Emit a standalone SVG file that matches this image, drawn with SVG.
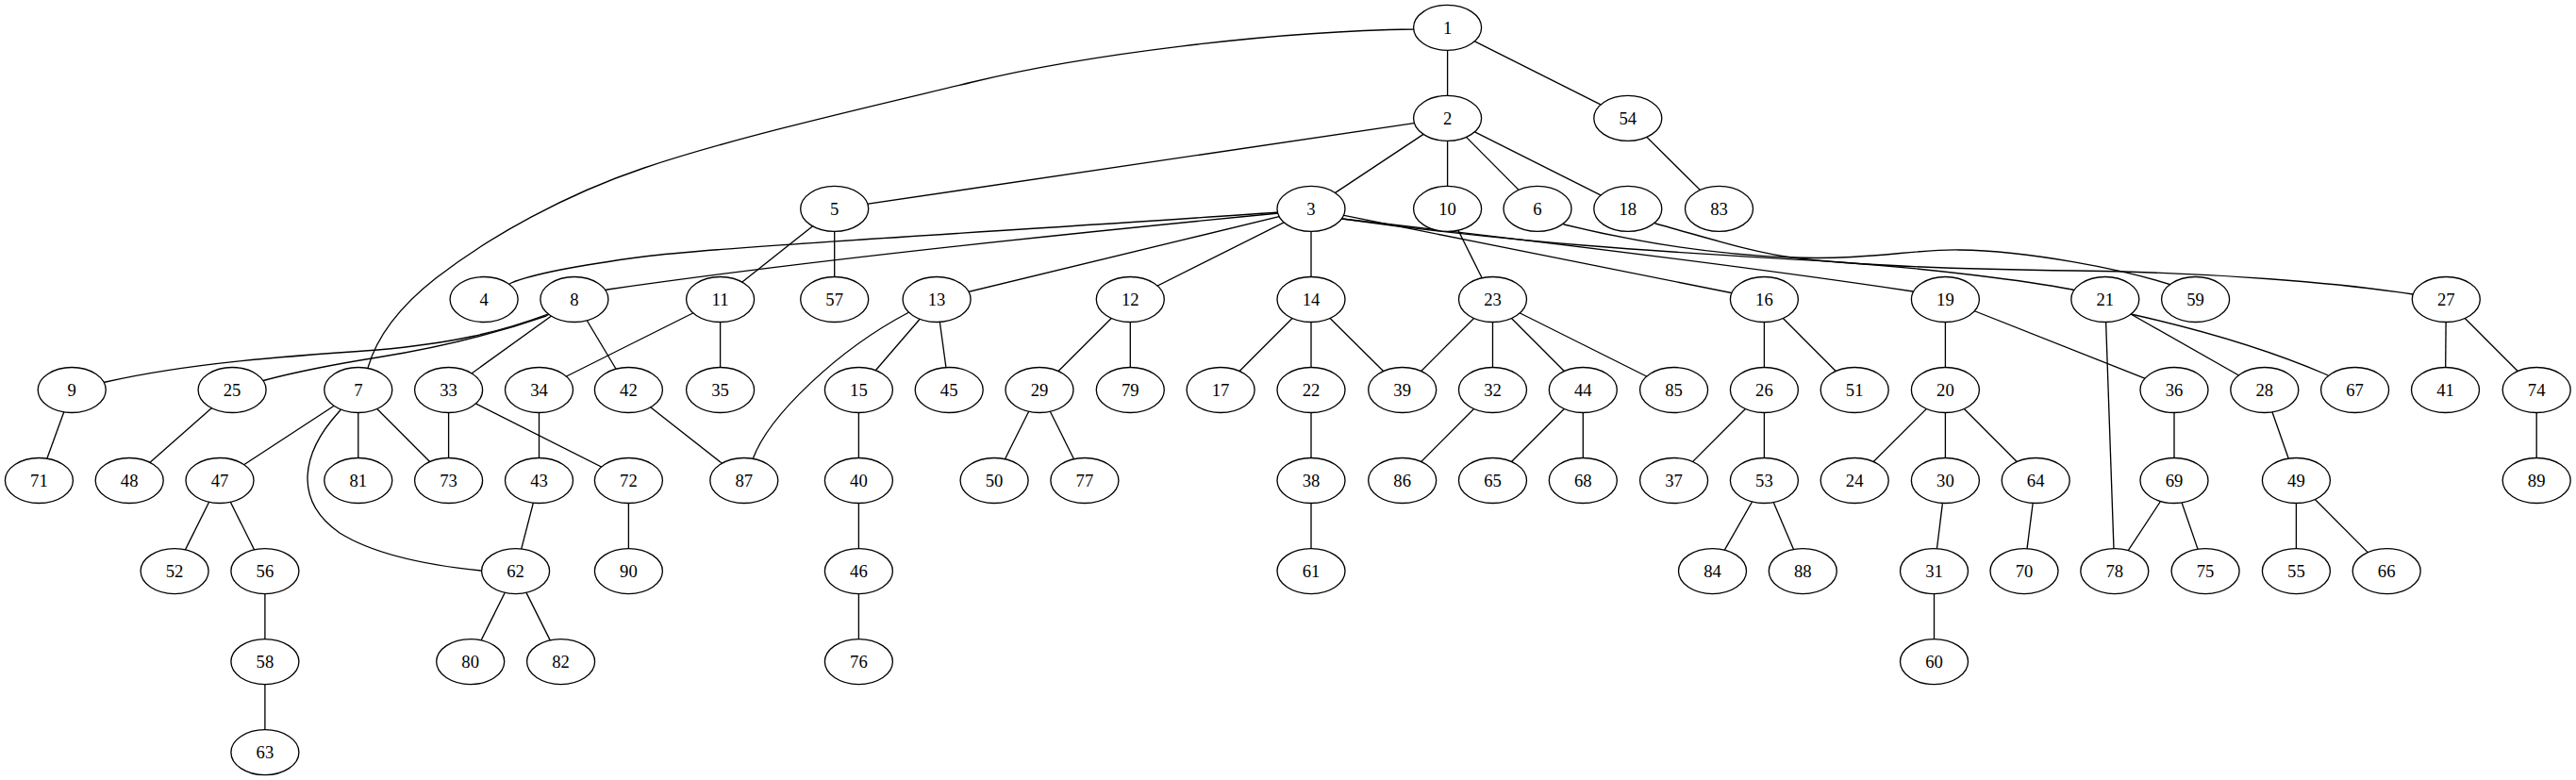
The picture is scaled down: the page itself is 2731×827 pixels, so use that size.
<svg xmlns="http://www.w3.org/2000/svg" width="2731" height="827" viewBox="0 0 2731 827">
<style>
.edges path{fill:none;stroke:#000;stroke-width:1.33}
.node ellipse{fill:#fff;stroke:#000;stroke-width:1.33}
.node text{font-family:"Liberation Serif","Times New Roman",serif;font-size:18.67px;text-anchor:middle;fill:#000}
</style>
<rect x="0" y="0" width="2731" height="827" fill="#fff"/>
<g id="edges" class="edges">
<path d="M1534.6,29.3 L1534.6,125.4"/>
<path d="M1534.6,29.3 L1725.8,125.4"/>
<path d="M1725.8,125.4 L1822.5,221.4"/>
<path d="M1534.6,125.4 L884.7,221.4"/>
<path d="M1534.6,125.4 L1390,221.4"/>
<path d="M1534.6,125.4 L1534.6,221.4"/>
<path d="M1534.6,125.4 L1630,221.4"/>
<path d="M1534.6,125.4 L1725.8,221.4"/>
<path d="M884.7,221.4 L763.6,317.5"/>
<path d="M884.7,221.4 L884.7,317.5"/>
<path d="M1390,221.4 L993.1,317.5"/>
<path d="M1390,221.4 L1198.3,317.5"/>
<path d="M1390,221.4 L1390,317.5"/>
<path d="M1390,221.4 L1870.4,317.5"/>
<path d="M1534.6,221.4 L1582.5,317.5"/>
<path d="M608.9,317.5 L475.6,413.5"/>
<path d="M608.9,317.5 L666.4,413.5"/>
<path d="M763.6,317.5 L571.5,413.5"/>
<path d="M763.6,317.5 L763.6,413.5"/>
<path d="M993.1,317.5 L910.4,413.5"/>
<path d="M993.1,317.5 L1006.2,413.5"/>
<path d="M1198.3,317.5 L1102,413.5"/>
<path d="M1198.3,317.5 L1198.3,413.5"/>
<path d="M1390,317.5 L1294.1,413.5"/>
<path d="M1390,317.5 L1390,413.5"/>
<path d="M1390,317.5 L1486.7,413.5"/>
<path d="M1582.5,317.5 L1486.7,413.5"/>
<path d="M1582.5,317.5 L1582.5,413.5"/>
<path d="M1582.5,317.5 L1678.3,413.5"/>
<path d="M1582.5,317.5 L1774.6,413.5"/>
<path d="M1870.4,317.5 L1870.4,413.5"/>
<path d="M1870.4,317.5 L1966.2,413.5"/>
<path d="M2062.4,317.5 L2062.4,413.5"/>
<path d="M2062.4,317.5 L2305,413.5"/>
<path d="M2231.8,317.5 L2241.8,605.6"/>
<path d="M2231.8,317.5 L2400.8,413.5"/>
<path d="M2593.3,317.5 L2592.5,413.5"/>
<path d="M2593.3,317.5 L2689.2,413.5"/>
<path d="M76.2,413.5 L41.4,509.5"/>
<path d="M246.1,413.5 L137.2,509.5"/>
<path d="M379.8,413.5 L233,509.5"/>
<path d="M379.8,413.5 L379.8,509.5"/>
<path d="M379.8,413.5 L475.6,509.5"/>
<path d="M475.6,413.5 L475.6,509.5"/>
<path d="M475.6,413.5 L666.4,509.5"/>
<path d="M571.5,413.5 L571.5,509.5"/>
<path d="M666.4,413.5 L788.8,509.5"/>
<path d="M910.4,413.5 L910.4,509.5"/>
<path d="M1102,413.5 L1054.1,509.5"/>
<path d="M1102,413.5 L1149.9,509.5"/>
<path d="M1390,413.5 L1390,509.5"/>
<path d="M1582.5,413.5 L1486.7,509.5"/>
<path d="M1678.3,413.5 L1582.5,509.5"/>
<path d="M1678.3,413.5 L1678.3,509.5"/>
<path d="M1870.4,413.5 L1774.6,509.5"/>
<path d="M1870.4,413.5 L1870.4,509.5"/>
<path d="M2062.4,413.5 L1966.2,509.5"/>
<path d="M2062.4,413.5 L2062.4,509.5"/>
<path d="M2062.4,413.5 L2158.2,509.5"/>
<path d="M2305,413.5 L2305,509.5"/>
<path d="M2400.8,413.5 L2434.4,509.5"/>
<path d="M2689.2,413.5 L2689.2,509.5"/>
<path d="M233,509.5 L185.1,605.6"/>
<path d="M233,509.5 L280.9,605.6"/>
<path d="M571.5,509.5 L546.6,605.6"/>
<path d="M666.4,509.5 L666.4,605.6"/>
<path d="M910.4,509.5 L910.4,605.6"/>
<path d="M1390,509.5 L1390,605.6"/>
<path d="M1870.4,509.5 L1815.5,605.6"/>
<path d="M1870.4,509.5 L1911.3,605.6"/>
<path d="M2062.4,509.5 L2050.5,605.6"/>
<path d="M2158.2,509.5 L2146,605.6"/>
<path d="M2305,509.5 L2241.8,605.6"/>
<path d="M2305,509.5 L2338.1,605.6"/>
<path d="M2434.4,509.5 L2434.4,605.6"/>
<path d="M2434.4,509.5 L2530.2,605.6"/>
<path d="M280.9,605.6 L280.9,701.6"/>
<path d="M546.6,605.6 L498.7,701.6"/>
<path d="M546.6,605.6 L594.6,701.6"/>
<path d="M910.4,605.6 L910.4,701.6"/>
<path d="M2050.5,605.6 L2050.5,701.6"/>
<path d="M280.9,701.6 L280.9,797.7"/>
<path d="M1534.6,29.3 L1499,31 C1350,33 1150,58 1031,87 C940,109 780,145 683,178 C600,206 520,250 462,295 C425,324 400,355 390,390 L379.8,413.5"/>
<path d="M1390,221.4 L1356,225 C1100,243 760,262 683,272 C630,279 570,288 542,300 L513.1,317.5"/>
<path d="M1390,221.4 L1356,226 Q900,270 644,307 L608.9,317.5"/>
<path d="M1390,221.4 L1423,232 Q1800,275 2028,309 L2062.4,317.5"/>
<path d="M1390,221.4 L1423,232 C1650,264 1850,271 1950,278 C2050,285 2150,298 2197,307 L2231.8,317.5"/>
<path d="M1630,221.4 L1658,238 C1740,258 1820,270 1900,273 C1980,276 2030,264 2077,265 C2150,266 2250,285 2305,303 L2327.6,317.5"/>
<path d="M1725.8,221.4 L1755,237 C1820,255 1860,268 1900,273 C1960,281 2050,285 2200,287 C2350,289 2480,300 2558,312 L2593.3,317.5"/>
<path d="M608.9,317.5 L581,333 C530,352 480,364 400,371 C300,378 200,385 112,405 L76.2,413.5"/>
<path d="M608.9,317.5 L579,335 C530,352 470,368 400,379 C350,387 315,394 281,403 L246.1,413.5"/>
<path d="M993.1,317.5 L962,332 C890,370 815,440 798,487 L788.8,509.5"/>
<path d="M379.8,413.5 L359,437 C320,480 310,530 360,565 C400,590 460,600 510,605 L546.6,605.6"/>
<path d="M2231.8,317.5 L2259,333 Q2380,360 2466,397 L2496.6,413.5"/>
</g>
<g id="n1" class="node"><ellipse cx="1534.6" cy="29.3" rx="36" ry="24"/><text x="1534.6" y="35.8">1</text></g>
<g id="n2" class="node"><ellipse cx="1534.6" cy="125.4" rx="36" ry="24"/><text x="1534.6" y="131.9">2</text></g>
<g id="n54" class="node"><ellipse cx="1725.8" cy="125.4" rx="36" ry="24"/><text x="1725.8" y="131.9">54</text></g>
<g id="n5" class="node"><ellipse cx="884.7" cy="221.4" rx="36" ry="24"/><text x="884.7" y="227.9">5</text></g>
<g id="n3" class="node"><ellipse cx="1390" cy="221.4" rx="36" ry="24"/><text x="1390" y="227.9">3</text></g>
<g id="n10" class="node"><ellipse cx="1534.6" cy="221.4" rx="36" ry="24"/><text x="1534.6" y="227.9">10</text></g>
<g id="n6" class="node"><ellipse cx="1630" cy="221.4" rx="36" ry="24"/><text x="1630" y="227.9">6</text></g>
<g id="n18" class="node"><ellipse cx="1725.8" cy="221.4" rx="36" ry="24"/><text x="1725.8" y="227.9">18</text></g>
<g id="n83" class="node"><ellipse cx="1822.5" cy="221.4" rx="36" ry="24"/><text x="1822.5" y="227.9">83</text></g>
<g id="n4" class="node"><ellipse cx="513.1" cy="317.5" rx="36" ry="24"/><text x="513.1" y="324">4</text></g>
<g id="n8" class="node"><ellipse cx="608.9" cy="317.5" rx="36" ry="24"/><text x="608.9" y="324">8</text></g>
<g id="n11" class="node"><ellipse cx="763.6" cy="317.5" rx="36" ry="24"/><text x="763.6" y="324">11</text></g>
<g id="n57" class="node"><ellipse cx="884.7" cy="317.5" rx="36" ry="24"/><text x="884.7" y="324">57</text></g>
<g id="n13" class="node"><ellipse cx="993.1" cy="317.5" rx="36" ry="24"/><text x="993.1" y="324">13</text></g>
<g id="n12" class="node"><ellipse cx="1198.3" cy="317.5" rx="36" ry="24"/><text x="1198.3" y="324">12</text></g>
<g id="n14" class="node"><ellipse cx="1390" cy="317.5" rx="36" ry="24"/><text x="1390" y="324">14</text></g>
<g id="n23" class="node"><ellipse cx="1582.5" cy="317.5" rx="36" ry="24"/><text x="1582.5" y="324">23</text></g>
<g id="n16" class="node"><ellipse cx="1870.4" cy="317.5" rx="36" ry="24"/><text x="1870.4" y="324">16</text></g>
<g id="n19" class="node"><ellipse cx="2062.4" cy="317.5" rx="36" ry="24"/><text x="2062.4" y="324">19</text></g>
<g id="n21" class="node"><ellipse cx="2231.8" cy="317.5" rx="36" ry="24"/><text x="2231.8" y="324">21</text></g>
<g id="n59" class="node"><ellipse cx="2327.6" cy="317.5" rx="36" ry="24"/><text x="2327.6" y="324">59</text></g>
<g id="n27" class="node"><ellipse cx="2593.3" cy="317.5" rx="36" ry="24"/><text x="2593.3" y="324">27</text></g>
<g id="n9" class="node"><ellipse cx="76.2" cy="413.5" rx="36" ry="24"/><text x="76.2" y="420">9</text></g>
<g id="n25" class="node"><ellipse cx="246.1" cy="413.5" rx="36" ry="24"/><text x="246.1" y="420">25</text></g>
<g id="n7" class="node"><ellipse cx="379.8" cy="413.5" rx="36" ry="24"/><text x="379.8" y="420">7</text></g>
<g id="n33" class="node"><ellipse cx="475.6" cy="413.5" rx="36" ry="24"/><text x="475.6" y="420">33</text></g>
<g id="n34" class="node"><ellipse cx="571.5" cy="413.5" rx="36" ry="24"/><text x="571.5" y="420">34</text></g>
<g id="n42" class="node"><ellipse cx="666.4" cy="413.5" rx="36" ry="24"/><text x="666.4" y="420">42</text></g>
<g id="n35" class="node"><ellipse cx="763.6" cy="413.5" rx="36" ry="24"/><text x="763.6" y="420">35</text></g>
<g id="n15" class="node"><ellipse cx="910.4" cy="413.5" rx="36" ry="24"/><text x="910.4" y="420">15</text></g>
<g id="n45" class="node"><ellipse cx="1006.2" cy="413.5" rx="36" ry="24"/><text x="1006.2" y="420">45</text></g>
<g id="n29" class="node"><ellipse cx="1102" cy="413.5" rx="36" ry="24"/><text x="1102" y="420">29</text></g>
<g id="n79" class="node"><ellipse cx="1198.3" cy="413.5" rx="36" ry="24"/><text x="1198.3" y="420">79</text></g>
<g id="n17" class="node"><ellipse cx="1294.1" cy="413.5" rx="36" ry="24"/><text x="1294.1" y="420">17</text></g>
<g id="n22" class="node"><ellipse cx="1390" cy="413.5" rx="36" ry="24"/><text x="1390" y="420">22</text></g>
<g id="n39" class="node"><ellipse cx="1486.7" cy="413.5" rx="36" ry="24"/><text x="1486.7" y="420">39</text></g>
<g id="n32" class="node"><ellipse cx="1582.5" cy="413.5" rx="36" ry="24"/><text x="1582.5" y="420">32</text></g>
<g id="n44" class="node"><ellipse cx="1678.3" cy="413.5" rx="36" ry="24"/><text x="1678.3" y="420">44</text></g>
<g id="n85" class="node"><ellipse cx="1774.6" cy="413.5" rx="36" ry="24"/><text x="1774.6" y="420">85</text></g>
<g id="n26" class="node"><ellipse cx="1870.4" cy="413.5" rx="36" ry="24"/><text x="1870.4" y="420">26</text></g>
<g id="n51" class="node"><ellipse cx="1966.2" cy="413.5" rx="36" ry="24"/><text x="1966.2" y="420">51</text></g>
<g id="n20" class="node"><ellipse cx="2062.4" cy="413.5" rx="36" ry="24"/><text x="2062.4" y="420">20</text></g>
<g id="n36" class="node"><ellipse cx="2305" cy="413.5" rx="36" ry="24"/><text x="2305" y="420">36</text></g>
<g id="n28" class="node"><ellipse cx="2400.8" cy="413.5" rx="36" ry="24"/><text x="2400.8" y="420">28</text></g>
<g id="n67" class="node"><ellipse cx="2496.6" cy="413.5" rx="36" ry="24"/><text x="2496.6" y="420">67</text></g>
<g id="n41" class="node"><ellipse cx="2592.5" cy="413.5" rx="36" ry="24"/><text x="2592.5" y="420">41</text></g>
<g id="n74" class="node"><ellipse cx="2689.2" cy="413.5" rx="36" ry="24"/><text x="2689.2" y="420">74</text></g>
<g id="n71" class="node"><ellipse cx="41.4" cy="509.5" rx="36" ry="24"/><text x="41.4" y="516">71</text></g>
<g id="n48" class="node"><ellipse cx="137.2" cy="509.5" rx="36" ry="24"/><text x="137.2" y="516">48</text></g>
<g id="n47" class="node"><ellipse cx="233" cy="509.5" rx="36" ry="24"/><text x="233" y="516">47</text></g>
<g id="n81" class="node"><ellipse cx="379.8" cy="509.5" rx="36" ry="24"/><text x="379.8" y="516">81</text></g>
<g id="n73" class="node"><ellipse cx="475.6" cy="509.5" rx="36" ry="24"/><text x="475.6" y="516">73</text></g>
<g id="n43" class="node"><ellipse cx="571.5" cy="509.5" rx="36" ry="24"/><text x="571.5" y="516">43</text></g>
<g id="n72" class="node"><ellipse cx="666.4" cy="509.5" rx="36" ry="24"/><text x="666.4" y="516">72</text></g>
<g id="n87" class="node"><ellipse cx="788.8" cy="509.5" rx="36" ry="24"/><text x="788.8" y="516">87</text></g>
<g id="n40" class="node"><ellipse cx="910.4" cy="509.5" rx="36" ry="24"/><text x="910.4" y="516">40</text></g>
<g id="n50" class="node"><ellipse cx="1054.1" cy="509.5" rx="36" ry="24"/><text x="1054.1" y="516">50</text></g>
<g id="n77" class="node"><ellipse cx="1149.9" cy="509.5" rx="36" ry="24"/><text x="1149.9" y="516">77</text></g>
<g id="n38" class="node"><ellipse cx="1390" cy="509.5" rx="36" ry="24"/><text x="1390" y="516">38</text></g>
<g id="n86" class="node"><ellipse cx="1486.7" cy="509.5" rx="36" ry="24"/><text x="1486.7" y="516">86</text></g>
<g id="n65" class="node"><ellipse cx="1582.5" cy="509.5" rx="36" ry="24"/><text x="1582.5" y="516">65</text></g>
<g id="n68" class="node"><ellipse cx="1678.3" cy="509.5" rx="36" ry="24"/><text x="1678.3" y="516">68</text></g>
<g id="n37" class="node"><ellipse cx="1774.6" cy="509.5" rx="36" ry="24"/><text x="1774.6" y="516">37</text></g>
<g id="n53" class="node"><ellipse cx="1870.4" cy="509.5" rx="36" ry="24"/><text x="1870.4" y="516">53</text></g>
<g id="n24" class="node"><ellipse cx="1966.2" cy="509.5" rx="36" ry="24"/><text x="1966.2" y="516">24</text></g>
<g id="n30" class="node"><ellipse cx="2062.4" cy="509.5" rx="36" ry="24"/><text x="2062.4" y="516">30</text></g>
<g id="n64" class="node"><ellipse cx="2158.2" cy="509.5" rx="36" ry="24"/><text x="2158.2" y="516">64</text></g>
<g id="n69" class="node"><ellipse cx="2305" cy="509.5" rx="36" ry="24"/><text x="2305" y="516">69</text></g>
<g id="n49" class="node"><ellipse cx="2434.4" cy="509.5" rx="36" ry="24"/><text x="2434.4" y="516">49</text></g>
<g id="n89" class="node"><ellipse cx="2689.2" cy="509.5" rx="36" ry="24"/><text x="2689.2" y="516">89</text></g>
<g id="n52" class="node"><ellipse cx="185.1" cy="605.6" rx="36" ry="24"/><text x="185.1" y="612.1">52</text></g>
<g id="n56" class="node"><ellipse cx="280.9" cy="605.6" rx="36" ry="24"/><text x="280.9" y="612.1">56</text></g>
<g id="n62" class="node"><ellipse cx="546.6" cy="605.6" rx="36" ry="24"/><text x="546.6" y="612.1">62</text></g>
<g id="n90" class="node"><ellipse cx="666.4" cy="605.6" rx="36" ry="24"/><text x="666.4" y="612.1">90</text></g>
<g id="n46" class="node"><ellipse cx="910.4" cy="605.6" rx="36" ry="24"/><text x="910.4" y="612.1">46</text></g>
<g id="n61" class="node"><ellipse cx="1390" cy="605.6" rx="36" ry="24"/><text x="1390" y="612.1">61</text></g>
<g id="n84" class="node"><ellipse cx="1815.5" cy="605.6" rx="36" ry="24"/><text x="1815.5" y="612.1">84</text></g>
<g id="n88" class="node"><ellipse cx="1911.3" cy="605.6" rx="36" ry="24"/><text x="1911.3" y="612.1">88</text></g>
<g id="n31" class="node"><ellipse cx="2050.5" cy="605.6" rx="36" ry="24"/><text x="2050.5" y="612.1">31</text></g>
<g id="n70" class="node"><ellipse cx="2146" cy="605.6" rx="36" ry="24"/><text x="2146" y="612.1">70</text></g>
<g id="n78" class="node"><ellipse cx="2241.8" cy="605.6" rx="36" ry="24"/><text x="2241.8" y="612.1">78</text></g>
<g id="n75" class="node"><ellipse cx="2338.1" cy="605.6" rx="36" ry="24"/><text x="2338.1" y="612.1">75</text></g>
<g id="n55" class="node"><ellipse cx="2434.4" cy="605.6" rx="36" ry="24"/><text x="2434.4" y="612.1">55</text></g>
<g id="n66" class="node"><ellipse cx="2530.2" cy="605.6" rx="36" ry="24"/><text x="2530.2" y="612.1">66</text></g>
<g id="n58" class="node"><ellipse cx="280.9" cy="701.6" rx="36" ry="24"/><text x="280.9" y="708.1">58</text></g>
<g id="n80" class="node"><ellipse cx="498.7" cy="701.6" rx="36" ry="24"/><text x="498.7" y="708.1">80</text></g>
<g id="n82" class="node"><ellipse cx="594.6" cy="701.6" rx="36" ry="24"/><text x="594.6" y="708.1">82</text></g>
<g id="n76" class="node"><ellipse cx="910.4" cy="701.6" rx="36" ry="24"/><text x="910.4" y="708.1">76</text></g>
<g id="n60" class="node"><ellipse cx="2050.5" cy="701.6" rx="36" ry="24"/><text x="2050.5" y="708.1">60</text></g>
<g id="n63" class="node"><ellipse cx="280.9" cy="797.7" rx="36" ry="24"/><text x="280.9" y="804.2">63</text></g>
</svg>
